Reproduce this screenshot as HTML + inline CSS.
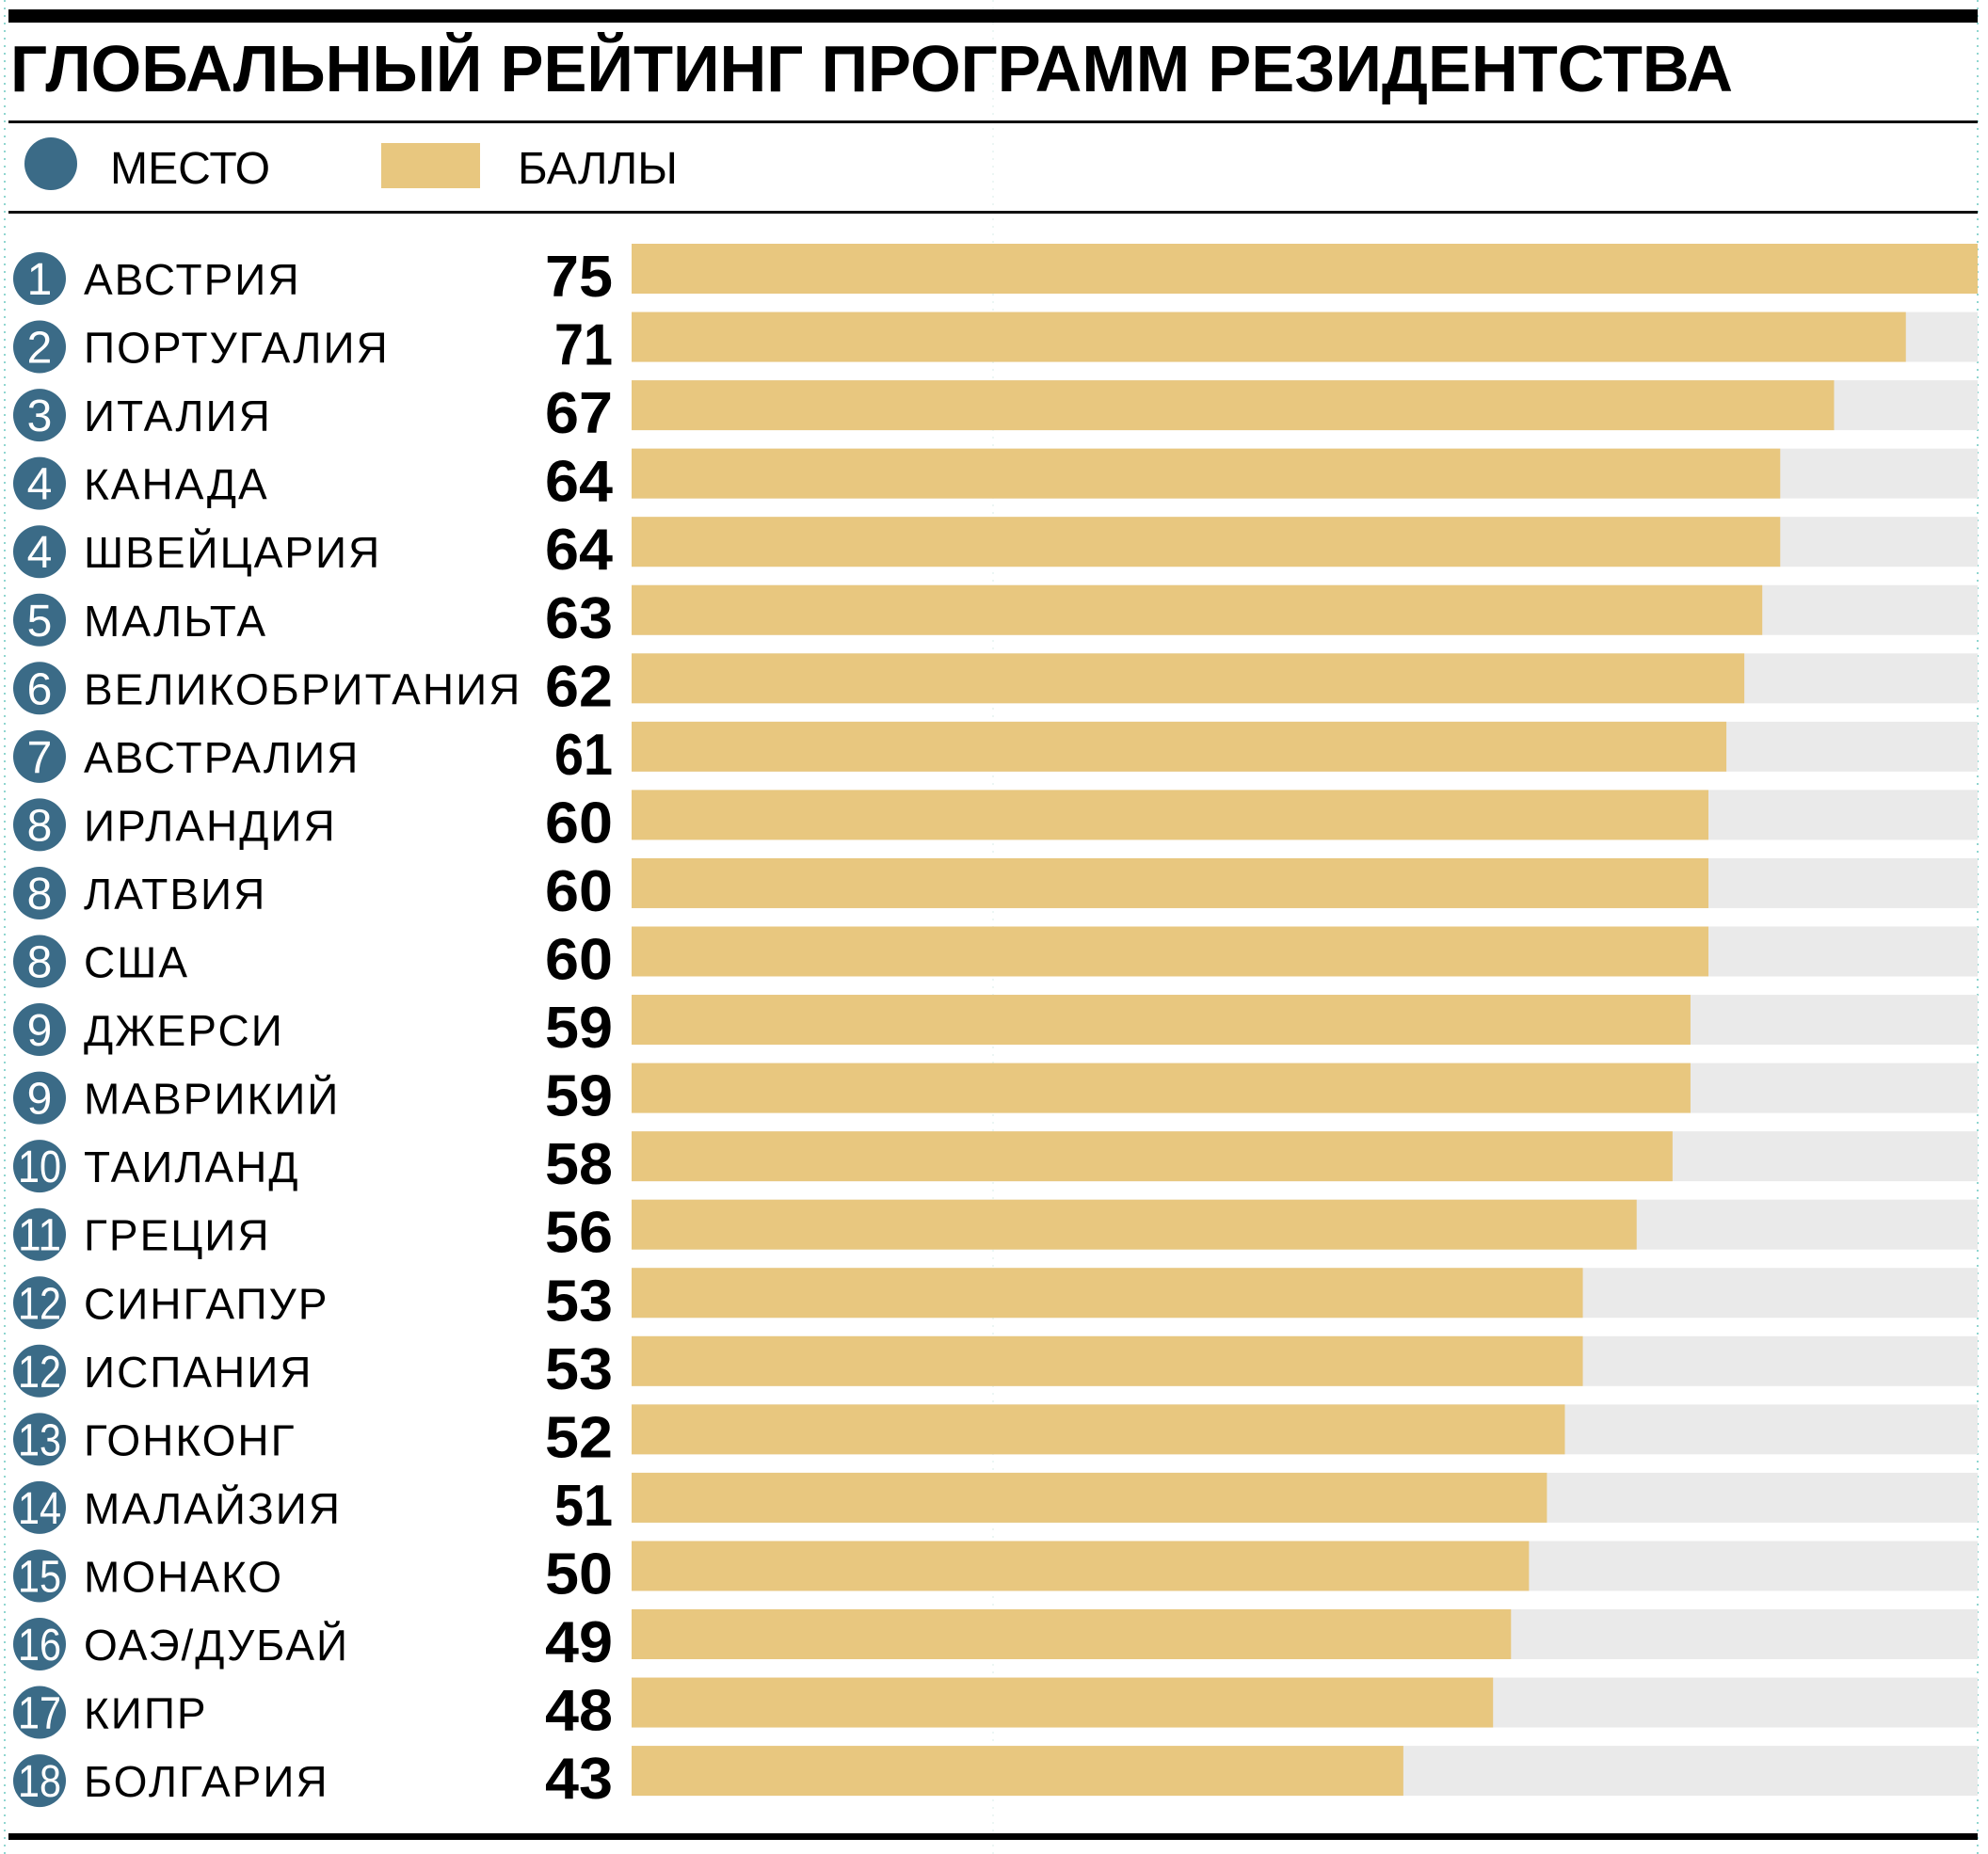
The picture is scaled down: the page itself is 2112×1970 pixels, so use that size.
<!DOCTYPE html>
<html><head><meta charset="utf-8"><style>html,body{margin:0;padding:0;background:#fff}svg{display:block}</style></head>
<body>
<svg width="2112" height="1970" viewBox="0 0 2112 1970" xmlns="http://www.w3.org/2000/svg" font-family="Liberation Sans, sans-serif">
<line x1="5" y1="0" x2="5" y2="1970" stroke="#6cc9c0" stroke-width="1.5" stroke-dasharray="2,6"/>
<line x1="1055" y1="0" x2="1055" y2="1970" stroke="#e6f3f1" stroke-width="1.5" stroke-dasharray="2,6"/>
<line x1="2101" y1="0" x2="2101" y2="1970" stroke="#6cc9c0" stroke-width="1.5" stroke-dasharray="2,6"/>
<rect x="9" y="10" width="2092" height="14" fill="#000"/>
<text x="11" y="97" font-size="70" font-weight="bold" textLength="1830" lengthAdjust="spacingAndGlyphs">ГЛОБАЛЬНЫЙ РЕЙТИНГ ПРОГРАММ РЕЗИДЕНТСТВА</text>
<rect x="9" y="128" width="2092" height="3" fill="#111"/>
<ellipse cx="54" cy="174" rx="28" ry="28" fill="#3b6b87"/>
<text x="117" y="195" font-size="48" textLength="170" lengthAdjust="spacingAndGlyphs">МЕСТО</text>
<rect x="405" y="152" width="105" height="48" fill="#e8c77f"/>
<text x="550" y="195" font-size="48" textLength="170" lengthAdjust="spacingAndGlyphs">БАЛЛЫ</text>
<rect x="9" y="224" width="2092" height="3" fill="#111"/>
<g id="rows"></g>
<rect x="9" y="1948" width="2092" height="7" fill="#000"/>
</svg>
<script>
var d=[["1","АВСТРИЯ",75],["2","ПОРТУГАЛИЯ",71],["3","ИТАЛИЯ",67],["4","КАНАДА",64],["4","ШВЕЙЦАРИЯ",64],["5","МАЛЬТА",63],["6","ВЕЛИКОБРИТАНИЯ",62],["7","АВСТРАЛИЯ",61],["8","ИРЛАНДИЯ",60],["8","ЛАТВИЯ",60],["8","США",60],["9","ДЖЕРСИ",59],["9","МАВРИКИЙ",59],["10","ТАИЛАНД",58],["11","ГРЕЦИЯ",56],["12","СИНГАПУР",53],["12","ИСПАНИЯ",53],["13","ГОНКОНГ",52],["14","МАЛАЙЗИЯ",51],["15","МОНАКО",50],["16","ОАЭ/ДУБАЙ",49],["17","КИПР",48],["18","БОЛГАРИЯ",43]];
var s="";
d.forEach(function(r,i){
var y=259+i*72.55;
var w=(2101-671)*r[2]/75;
var cy=y+37;
s+='<rect x="671" y="'+y+'" width="1430" height="53" fill="#eaeaea"/>';
s+='<rect x="671" y="'+y+'" width="'+w+'" height="53" fill="#e8c77f"/>';
s+='<circle cx="42" cy="'+cy+'" r="28" fill="#3b6b87"/>';
s+='<text x="42" y="'+(cy+17)+'" font-size="48" fill="#fff" text-anchor="middle"'+(r[0].length>1?' textLength="46" lengthAdjust="spacingAndGlyphs"':'')+'>'+r[0]+'</text>';
s+='<text x="89" y="'+(y+54)+'" font-size="46" letter-spacing="2">'+r[1]+'</text>';
s+='<text x="651" y="'+(y+56)+'" font-size="62" font-weight="bold" text-anchor="end" textLength="'+(r[2]==71||r[2]==61||r[2]==51?62:72)+'" lengthAdjust="spacingAndGlyphs">'+r[2]+'</text>';
});
document.getElementById("rows").innerHTML=s;
</script>
</body></html>
